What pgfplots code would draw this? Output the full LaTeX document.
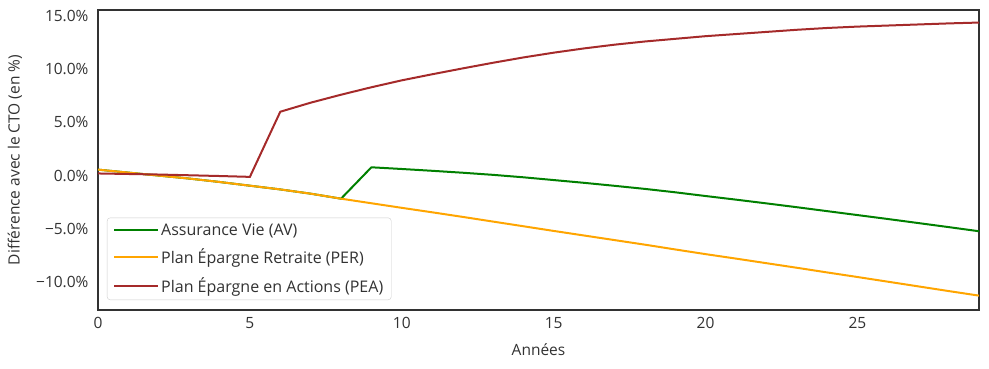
\documentclass[border=0pt]{standalone}
\usepackage{fontspec}
\setmainfont{Open Sans}
\usepackage{pgfplots}
\pgfplotsset{compat=1.18}
\definecolor{av}{RGB}{0,128,0}
\definecolor{per}{RGB}{255,165,0}
\definecolor{pea}{RGB}{165,42,42}
\definecolor{txt}{RGB}{50,50,50}
\pgfplotstableread{
x y
0 0.56
1 0.28
2 0.0
3 -0.28
4 -0.6
5 -0.95
6 -1.3
7 -1.7
8 -2.17
9 0.78
10 0.62
11 0.45
12 0.27
13 0.07
14 -0.16
15 -0.42
16 -0.68
17 -0.96
18 -1.25
19 -1.57
20 -1.92
21 -2.26
22 -2.61
23 -2.97
24 -3.34
25 -3.71
26 -4.08
27 -4.46
28 -4.84
29 -5.23
}\av
\pgfplotstableread{
x y
0 0.56
1 0.28
2 0.0
3 -0.28
4 -0.6
5 -0.95
6 -1.3
7 -1.7
8 -2.17
9 -2.6
10 -3.03
11 -3.45
12 -3.88
13 -4.32
14 -4.76
15 -5.2
16 -5.63
17 -6.06
18 -6.49
19 -6.94
20 -7.38
21 -7.8
22 -8.23
23 -8.66
24 -9.1
25 -9.53
26 -9.97
27 -10.41
28 -10.85
29 -11.28
}\per
\pgfplotstableread{
x y
0 0.2
1 0.15
2 0.1
3 0.03
4 -0.04
5 -0.12
6 6.0
7 6.85
8 7.6
9 8.3
10 8.95
11 9.52
12 10.07
13 10.6
14 11.1
15 11.55
16 11.95
17 12.3
18 12.6
19 12.85
20 13.1
21 13.3
22 13.5
23 13.7
24 13.87
25 14.0
26 14.1
27 14.2
28 14.3
29 14.38
}\pea
\begin{document}
\begin{tikzpicture}
\begin{axis}[
  scale only axis, width=881bp, height=300bp,
  xmin=0, xmax=29, ymin=-12.63, ymax=15.56,
  xtick={0,5,10,15,20,25},
  ytick={-10,-5,0,5,10,15},
  yticklabels={−10.0\%,−5.0\%,0.0\%,5.0\%,10.0\%,15.0\%},
  /pgf/number format/assume math mode=true,
  major tick length=0pt,
  axis line style={txt, line width=1.1bp},
  tick label style={font=\fontsize{15.5bp}{18bp}\selectfont, text=txt},
  xticklabel style={yshift=-4bp},
  yticklabel style={xshift=-6bp},
  xlabel={Années}, ylabel={Différence avec le CTO (en \%)},
  every axis x label/.style={at={(rel axis cs:0.5,0)}, yshift=-40bp, anchor=center, font=\fontsize{15.5bp}{18bp}\selectfont, text=txt},
  every axis y label/.style={at={(rel axis cs:0,0.5)}, xshift=-83bp, rotate=90, anchor=center, font=\fontsize{15.5bp}{18bp}\selectfont, text=txt},
  legend cell align=left,
  legend image code/.code={\draw[#1] (0bp,0bp) -- (34bp,0bp); \path (0bp,0bp) -- (44bp,0bp);},
  legend style={at={(rel axis cs:0,0)}, anchor=south west, xshift=9bp, yshift=10bp,
    draw=black!20, rounded corners=3bp, fill=white, fill opacity=0.8, text opacity=1,
    font=\fontsize{16bp}{18bp}\selectfont, text=txt, row sep=8bp,
    inner xsep=6bp, inner ysep=4bp},
]
\coordinate (sw) at (rel axis cs:0,0);
\coordinate (ne) at (rel axis cs:1,1);
\addplot[av, line width=2bp] table[x=x,y=y] {\av};
\addlegendentry{Assurance Vie (AV)}
\addplot[per, line width=2bp] table[x=x,y=y] {\per};
\addlegendentry{Plan Épargne Retraite (PER)}
\addplot[pea, line width=2bp] table[x=x,y=y] {\pea};
\addlegendentry{Plan Épargne en Actions (PEA)}
\end{axis}
\path (sw) ++(-98bp,-59bp) (ne) ++(10bp,10bp);
\end{tikzpicture}
\end{document}
